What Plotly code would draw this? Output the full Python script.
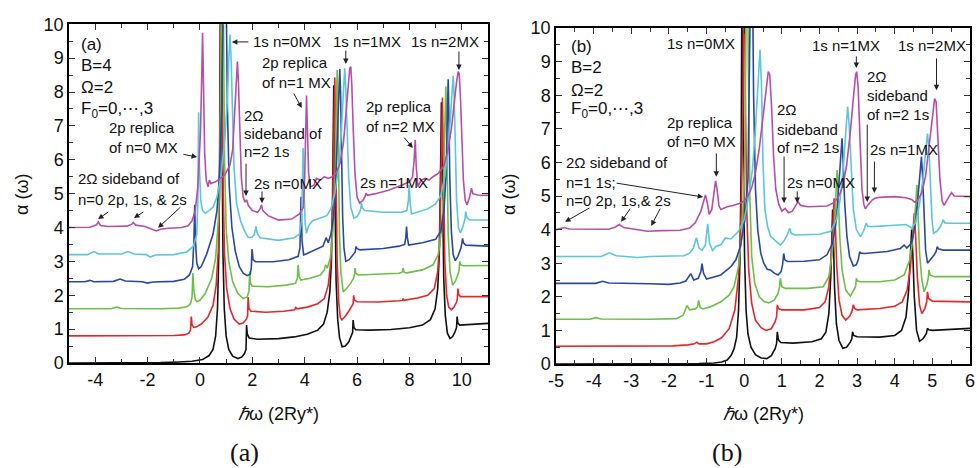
import plotly.graph_objects as go

# ---------------- data: (x, alpha) pairs ----------------
# Panel (a): B=4, Omega=2
A_BLACK = [(-5,0.0),(-3,0.0),(-1.5,0.01),(-0.8,0.03),(-0.3,0.05),(0.1,0.1),(0.35,0.22),(0.5,0.4),(0.6,0.8),(0.67,1.6),(0.72,3.2),(0.75,6),(0.78,12),(0.8,14),(0.82,12),(0.85,6),(0.88,3.2),(0.93,1.6),(1.0,0.8),(1.1,0.4),(1.25,0.2),(1.45,0.13),(1.6,0.18),(1.7,0.28),(1.76,0.4),(1.78,1.12),(1.81,0.85),(1.88,0.74),(2.2,0.7),(3.0,0.72),(3.6,0.77),(4.1,0.85),(4.5,0.97),(4.72,1.15),(4.86,1.5),(4.96,2.1),(5.02,3.0),(5.06,4.6),(5.09,6.5),(5.11,8.2),(5.13,6.5),(5.16,4.0),(5.2,2.4),(5.26,1.3),(5.33,0.75),(5.43,0.48),(5.55,0.5),(5.68,0.62),(5.78,0.78),(5.83,0.9),(5.85,1.27),(5.88,1.05),(5.95,0.98),(6.5,0.97),(7.3,0.99),(8.0,1.04),(8.5,1.12),(8.8,1.28),(8.98,1.6),(9.08,2.2),(9.14,3.2),(9.18,4.8),(9.2,6.3),(9.22,7.7),(9.24,6.3),(9.27,4.3),(9.31,2.5),(9.37,1.4),(9.45,0.88),(9.55,0.72),(9.65,0.78),(9.74,0.92),(9.8,1.05),(9.82,1.37),(9.85,1.18),(9.92,1.12),(10.5,1.14),(11,1.17)]
A_RED = [(-5,0.8),(-2,0.8),(-1,0.81),(-0.6,0.83),(-0.42,0.88),(-0.36,0.98),(-0.33,1.37),(-0.3,1.12),(-0.24,1.05),(-0.15,1.06),(0.05,1.15),(0.3,1.35),(0.5,1.7),(0.62,2.3),(0.7,3.3),(0.75,5),(0.79,9),(0.82,14),(0.85,9),(0.89,5),(0.94,3.2),(1.02,2.2),(1.15,1.6),(1.3,1.3),(1.5,1.15),(1.65,1.18),(1.78,1.3),(1.82,1.4),(1.84,1.95),(1.87,1.62),(1.95,1.53),(2.5,1.5),(3.2,1.53),(3.62,1.57),(3.66,1.65),(3.7,1.6),(4.1,1.65),(4.5,1.75),(4.75,1.9),(4.9,2.3),(5.0,3.0),(5.06,4.3),(5.1,6),(5.13,7.5),(5.15,8.43),(5.17,7.3),(5.2,5),(5.24,3),(5.3,1.8),(5.36,1.35),(5.42,1.27),(5.55,1.38),(5.7,1.55),(5.82,1.7),(5.85,1.75),(5.87,2.0),(5.9,1.86),(6.0,1.81),(6.8,1.8),(7.6,1.84),(7.73,1.85),(7.76,1.9),(7.8,1.85),(8.3,1.92),(8.7,2.0),(8.95,2.2),(9.08,2.7),(9.15,3.5),(9.2,5),(9.24,6.8),(9.26,7.84),(9.28,6.8),(9.31,4.8),(9.35,3.0),(9.42,2.0),(9.5,1.65),(9.6,1.57),(9.7,1.65),(9.8,1.8),(9.83,1.9),(9.85,2.2),(9.88,2.02),(9.95,1.96),(10.5,1.95),(11,1.96)]
A_GREEN = [(-5,1.6),(-3.4,1.6),(-3.18,1.65),(-3.0,1.61),(-1.5,1.6),(-0.8,1.62),(-0.5,1.66),(-0.36,1.75),(-0.3,1.95),(-0.27,2.66),(-0.24,2.2),(-0.18,1.88),(-0.12,1.81),(0.0,1.85),(0.2,2.05),(0.45,2.5),(0.6,3.1),(0.7,4.2),(0.77,6),(0.82,10),(0.86,14),(0.9,10),(0.94,6),(1.0,4),(1.1,3),(1.25,2.4),(1.45,2.05),(1.65,1.9),(1.8,1.95),(1.87,2.1),(1.9,2.7),(1.93,2.35),(2.0,2.27),(2.6,2.25),(3.3,2.3),(3.65,2.35),(3.72,2.5),(3.75,2.9),(3.79,2.55),(3.85,2.45),(4.2,2.5),(4.6,2.6),(4.75,2.75),(4.8,2.9),(4.86,2.8),(4.98,3.1),(5.08,3.9),(5.14,5),(5.19,7),(5.22,8.2),(5.24,8.65),(5.26,8),(5.29,5.8),(5.33,3.8),(5.38,2.7),(5.47,2.1),(5.6,2.2),(5.75,2.35),(5.86,2.5),(5.9,2.6),(5.92,2.8),(5.95,2.65),(6.05,2.6),(7.0,2.62),(7.6,2.65),(7.72,2.68),(7.76,2.8),(7.8,2.68),(7.9,2.66),(8.5,2.75),(8.9,2.9),(9.1,3.2),(9.22,3.9),(9.29,5),(9.34,6.8),(9.37,7.9),(9.39,8.16),(9.41,7.4),(9.44,5.5),(9.48,3.8),(9.55,2.7),(9.65,2.3),(9.75,2.4),(9.85,2.6),(9.89,2.7),(9.92,3.0),(9.95,2.9),(10.05,2.87),(11,2.88)]
A_BLUE = [(-5,2.4),(-4.4,2.4),(-4.2,2.44),(-4.05,2.4),(-3.3,2.41),(-3.05,2.48),(-2.85,2.42),(-2.2,2.4),(-2.0,2.36),(-1.8,2.39),(-1.0,2.41),(-0.6,2.47),(-0.4,2.6),(-0.28,2.85),(-0.23,3.6),(-0.2,4.67),(-0.17,3.6),(-0.12,2.95),(-0.05,2.78),(0.05,2.85),(0.25,3.2),(0.5,3.8),(0.65,4.5),(0.75,5.6),(0.83,7.5),(0.9,11),(0.95,14),(1.0,11),(1.05,7.5),(1.12,5.2),(1.22,4),(1.35,3.3),(1.5,2.85),(1.65,2.65),(1.8,2.58),(1.92,2.62),(1.96,2.8),(1.99,3.36),(2.03,3.05),(2.12,2.99),(2.8,2.99),(3.4,3.05),(3.75,3.15),(3.82,3.4),(3.86,4.91),(3.9,3.6),(3.96,3.19),(4.05,3.22),(4.4,3.35),(4.7,3.45),(4.82,3.7),(4.9,3.55),(5.0,3.8),(5.1,4.3),(5.18,5.2),(5.25,6.5),(5.3,7.9),(5.34,8.68),(5.37,8),(5.41,6),(5.45,4.3),(5.5,3.4),(5.57,3.0),(5.7,3.05),(5.85,3.2),(5.93,3.28),(5.96,3.44),(6.0,3.38),(6.1,3.34),(7.0,3.38),(7.6,3.45),(7.82,3.5),(7.86,3.7),(7.89,4.03),(7.92,3.7),(7.97,3.48),(8.5,3.55),(9.0,3.65),(9.2,3.9),(9.32,4.5),(9.4,5.6),(9.45,7.2),(9.48,8.38),(9.5,7.6),(9.54,5.5),(9.6,3.9),(9.67,3.2),(9.75,3.02),(9.85,3.15),(9.97,3.4),(10.0,3.5),(10.03,3.68),(10.06,3.55),(10.15,3.48),(11,3.45)]
A_CYAN = [(-5,3.2),(-4.3,3.2),(-4.05,3.29),(-3.85,3.22),(-3.0,3.22),(-2.75,3.29),(-2.5,3.22),(-2.05,3.2),(-1.9,3.13),(-1.7,3.19),(-1.0,3.2),(-0.5,3.28),(-0.25,3.45),(-0.12,3.8),(-0.08,4.8),(-0.05,7.4),(-0.02,5.8),(0.03,4.8),(0.1,4.5),(0.2,4.42),(0.35,4.5),(0.5,4.6),(0.65,4.9),(0.8,5.5),(0.95,6.6),(1.05,7.8),(1.1,8.9),(1.15,9.7),(1.19,9),(1.24,7.5),(1.3,5.8),(1.4,4.7),(1.55,4.2),(1.7,3.9),(1.85,3.7),(2.0,3.72),(2.08,3.8),(2.14,4.03),(2.19,3.82),(2.3,3.7),(3.0,3.62),(3.6,3.7),(3.8,3.8),(3.88,4.2),(3.92,5.5),(3.94,6.35),(3.97,5.2),(4.02,4.1),(4.07,3.83),(4.15,4.05),(4.3,4.2),(4.6,4.28),(4.85,4.35),(5.0,4.55),(5.15,5.0),(5.3,5.8),(5.4,6.8),(5.47,7.9),(5.53,8.7),(5.57,8.1),(5.62,6.8),(5.68,5.5),(5.76,4.6),(5.88,4.28),(6.0,4.32),(6.1,4.45),(6.14,4.55),(6.17,4.72),(6.2,4.58),(6.3,4.5),(7.0,4.45),(7.7,4.45),(7.9,4.5),(7.96,4.8),(7.99,5.26),(8.03,4.7),(8.08,4.4),(8.3,4.45),(8.7,4.55),(9.0,4.7),(9.2,4.95),(9.35,5.5),(9.48,6.3),(9.57,7.3),(9.63,8.1),(9.67,8.48),(9.71,7.8),(9.75,6.2),(9.8,4.8),(9.87,4.0),(9.95,3.84),(10.05,4.05),(10.12,4.25),(10.15,4.47),(10.19,4.3),(10.3,4.22),(11,4.22)]
A_MAGENTA = [(-5,4.0),(-4.2,4.01),(-3.95,4.08),(-3.88,4.17),(-3.8,4.06),(-3.5,4.03),(-2.8,4.04),(-2.6,4.1),(-2.55,4.15),(-2.45,4.07),(-2.1,4.03),(-1.8,3.95),(-1.67,3.9),(-1.5,3.95),(-1.2,3.98),(-0.7,4.0),(-0.45,4.05),(-0.3,4.2),(-0.18,4.5),(-0.08,5.2),(0.02,6.8),(0.07,8.5),(0.1,9.75),(0.13,8.5),(0.18,6.2),(0.24,5.4),(0.31,5.2),(0.36,5.4),(0.42,5.3),(0.6,5.35),(0.8,5.45),(0.95,5.55),(1.05,5.7),(1.15,5.85),(1.25,6.3),(1.33,7.3),(1.39,8.4),(1.43,8.9),(1.47,8.3),(1.52,6.8),(1.58,5.5),(1.65,4.9),(1.72,4.75),(1.78,4.82),(1.85,4.65),(2.0,4.5),(2.2,4.45),(2.3,4.55),(2.35,4.67),(2.4,4.5),(2.6,4.35),(3.0,4.22),(3.5,4.25),(3.8,4.4),(3.95,4.6),(4.0,5.5),(4.04,7.0),(4.07,7.9),(4.1,7.0),(4.15,5.6),(4.22,5.2),(4.35,5.25),(4.45,5.45),(4.6,5.4),(4.75,5.5),(4.9,5.45),(5.05,5.5),(5.2,5.6),(5.35,5.9),(5.48,6.5),(5.58,7.4),(5.67,8.3),(5.72,8.7),(5.76,8.75),(5.8,8.2),(5.85,7.0),(5.92,5.6),(6.0,4.9),(6.1,4.72),(6.22,4.8),(6.3,4.9),(6.34,5.01),(6.4,4.95),(6.7,5.0),(7.2,5.1),(7.7,5.25),(8.0,5.35),(8.12,5.5),(8.18,6.0),(8.22,6.59),(8.26,5.8),(8.32,5.21),(8.45,5.4),(8.6,5.45),(8.75,5.4),(8.9,5.5),(9.1,5.6),(9.3,5.8),(9.45,6.2),(9.6,6.9),(9.72,7.8),(9.8,8.3),(9.86,8.6),(9.9,8.55),(9.95,7.8),(10.0,6.6),(10.06,5.4),(10.13,4.8),(10.2,4.67),(10.28,4.85),(10.34,5.05),(10.37,5.16),(10.42,5.0),(10.6,4.96),(11,4.95)]

# Panel (b): B=2, Omega=2
B_BLACK = [(-5,0),(-2,0),(-1.2,0.01),(-0.8,0.03),(-0.6,0.06),(-0.45,0.12),(-0.35,0.25),(-0.27,0.45),(-0.2,0.8),(-0.15,1.6),(-0.11,3.2),(-0.08,6),(-0.05,14),(-0.02,6),(0.01,3.2),(0.05,1.6),(0.1,0.9),(0.18,0.5),(0.3,0.28),(0.45,0.18),(0.6,0.16),(0.72,0.25),(0.82,0.45),(0.86,0.6),(0.88,0.96),(0.91,0.72),(0.97,0.64),(1.3,0.62),(1.8,0.66),(2.05,0.75),(2.17,0.95),(2.25,1.5),(2.3,2.6),(2.33,3.8),(2.35,4.6),(2.37,3.8),(2.4,2.3),(2.45,1.2),(2.52,0.7),(2.62,0.47),(2.72,0.5),(2.82,0.65),(2.86,0.75),(2.88,0.96),(2.91,0.85),(3.0,0.81),(3.6,0.8),(4.0,0.85),(4.18,1.0),(4.3,1.4),(4.37,2.2),(4.42,3.3),(4.45,4.0),(4.48,3.3),(4.52,2.0),(4.58,1.0),(4.66,0.68),(4.75,0.75),(4.84,0.9),(4.87,1.06),(4.9,1.02),(5.0,1.0),(6,1.06)]
B_RED = [(-5,0.53),(-2.5,0.53),(-1.9,0.54),(-1.5,0.57),(-1.32,0.6),(-1.26,0.65),(-1.2,0.6),(-1.0,0.6),(-0.8,0.66),(-0.6,0.78),(-0.4,1.05),(-0.25,1.6),(-0.15,2.6),(-0.08,4.5),(-0.03,8),(0.0,14),(0.03,8),(0.07,4.5),(0.12,2.8),(0.2,1.8),(0.3,1.3),(0.45,1.08),(0.58,1.0),(0.72,1.05),(0.82,1.25),(0.86,1.4),(0.88,1.76),(0.91,1.65),(1.0,1.61),(1.6,1.61),(2.0,1.68),(2.15,1.85),(2.25,2.3),(2.32,3.3),(2.36,4.3),(2.39,4.93),(2.42,4.2),(2.46,2.9),(2.52,1.9),(2.6,1.45),(2.7,1.31),(2.8,1.42),(2.86,1.55),(2.9,1.76),(2.93,1.66),(3.0,1.61),(3.6,1.65),(4.0,1.72),(4.2,1.85),(4.33,2.2),(4.42,2.9),(4.48,3.8),(4.52,4.49),(4.56,3.7),(4.6,2.6),(4.66,1.75),(4.72,1.5),(4.8,1.65),(4.85,1.85),(4.87,2.15),(4.9,1.95),(5.0,1.87),(6,1.85)]
B_GREEN = [(-5,1.33),(-4.1,1.33),(-3.94,1.38),(-3.8,1.34),(-2.5,1.33),(-1.8,1.35),(-1.62,1.45),(-1.52,1.74),(-1.45,1.61),(-1.3,1.64),(-1.24,1.7),(-1.21,1.89),(-1.17,1.68),(-1.1,1.64),(-0.9,1.7),(-0.62,1.85),(-0.4,2.05),(-0.27,2.3),(-0.15,2.9),(-0.05,4),(0.02,6.5),(0.06,10),(0.08,14),(0.11,9),(0.15,5),(0.2,3.2),(0.28,2.4),(0.4,2.0),(0.53,1.86),(0.65,1.82),(0.8,1.9),(0.9,2.1),(0.94,2.3),(0.96,2.55),(1.0,2.3),(1.1,2.25),(1.7,2.25),(2.1,2.3),(2.25,2.6),(2.33,3.2),(2.4,4.2),(2.44,5.1),(2.47,5.77),(2.5,5.0),(2.54,3.8),(2.6,2.8),(2.7,2.2),(2.82,2.02),(2.92,2.2),(2.96,2.3),(2.98,2.55),(3.01,2.47),(3.1,2.45),(3.6,2.45),(4.0,2.5),(4.25,2.65),(4.4,3.1),(4.5,3.9),(4.56,4.8),(4.59,5.33),(4.62,4.5),(4.66,3.3),(4.72,2.5),(4.78,2.15),(4.85,2.35),(4.89,2.55),(4.91,2.8),(4.94,2.65),(5.05,2.6),(6,2.6)]
B_BLUE = [(-5,2.4),(-3.95,2.4),(-3.76,2.46),(-3.6,2.41),(-2.5,2.39),(-2.0,2.37),(-1.7,2.41),(-1.55,2.47),(-1.42,2.69),(-1.34,2.5),(-1.22,2.55),(-1.15,2.75),(-1.12,2.99),(-1.08,2.7),(-1.0,2.53),(-0.85,2.58),(-0.62,2.65),(-0.35,2.9),(-0.22,3.1),(-0.1,3.5),(0.02,4.3),(0.1,5.5),(0.15,8),(0.2,14),(0.25,8),(0.3,5.2),(0.36,4.0),(0.44,3.3),(0.52,3.0),(0.61,2.82),(0.7,2.8),(0.78,2.72),(0.9,2.65),(0.98,2.75),(1.02,2.95),(1.05,3.29),(1.08,3.1),(1.15,3.05),(1.6,3.06),(2.0,3.1),(2.2,3.25),(2.35,3.6),(2.45,4.3),(2.52,5.3),(2.57,6.2),(2.6,6.72),(2.63,6.0),(2.67,4.8),(2.73,3.8),(2.8,3.2),(2.9,2.92),(2.98,2.95),(3.03,3.1),(3.07,3.34),(3.1,3.3),(3.2,3.29),(3.8,3.35),(4.15,3.44),(4.25,3.54),(4.32,3.45),(4.45,3.6),(4.55,4.2),(4.62,5.0),(4.67,5.8),(4.71,6.17),(4.74,5.6),(4.78,4.4),(4.82,3.4),(4.87,3.0),(4.95,3.1),(5.05,3.25),(5.1,3.35),(5.13,3.49),(5.17,3.42),(5.3,3.39),(6,3.39)]
B_CYAN = [(-5,3.2),(-3.8,3.2),(-3.58,3.31),(-3.4,3.22),(-2.83,3.17),(-2.5,3.2),(-1.6,3.22),(-1.45,3.3),(-1.35,3.45),(-1.27,3.76),(-1.2,3.45),(-1.12,3.38),(-1.03,3.55),(-0.97,4.17),(-0.92,3.6),(-0.84,3.38),(-0.75,3.5),(-0.62,3.55),(-0.5,3.75),(-0.35,3.72),(-0.15,3.95),(0.0,4.3),(0.12,5),(0.22,5.8),(0.3,7),(0.37,8.5),(0.42,9.35),(0.46,8.3),(0.5,6),(0.55,4.6),(0.62,4.1),(0.7,3.8),(0.8,3.7),(0.9,3.6),(0.96,3.54),(1.05,3.65),(1.15,3.85),(1.21,4.04),(1.25,3.89),(1.35,3.84),(2.0,3.86),(2.3,3.95),(2.45,4.3),(2.55,4.9),(2.63,5.8),(2.7,6.9),(2.75,7.66),(2.79,7.1),(2.84,5.8),(2.9,4.6),(2.98,4.0),(3.09,3.79),(3.17,3.95),(3.21,4.1),(3.24,4.19),(3.28,4.1),(3.4,4.09),(3.9,4.12),(4.3,4.15),(4.45,4.05),(4.55,4.2),(4.65,4.7),(4.75,5.5),(4.82,6.3),(4.87,6.86),(4.91,6.4),(4.95,5.2),(4.99,4.3),(5.03,3.89),(5.12,3.95),(5.22,4.1),(5.29,4.29),(5.33,4.2),(5.45,4.19),(6,4.19)]
B_MAGENTA = [(-5,4.0),(-4.9,4.02),(-4.78,4.06),(-4.65,4.02),(-3.6,4.01),(-3.42,4.08),(-3.32,4.15),(-3.2,4.06),(-2.9,4.0),(-2.57,3.95),(-2.2,3.97),(-1.7,3.98),(-1.45,4.05),(-1.3,4.2),(-1.15,4.55),(-1.07,4.9),(-1.03,5.03),(-0.98,4.8),(-0.93,4.45),(-0.86,4.6),(-0.8,5.1),(-0.76,5.45),(-0.72,5.2),(-0.67,4.7),(-0.62,4.6),(-0.45,4.68),(-0.3,4.72),(-0.13,4.78),(0.0,4.85),(0.1,5.0),(0.2,5.25),(0.3,5.7),(0.4,6.4),(0.5,7.3),(0.58,8.2),(0.64,8.7),(0.68,8.6),(0.73,7.6),(0.78,6.2),(0.84,5.2),(0.92,4.75),(1.0,4.55),(1.09,4.63),(1.18,4.5),(1.28,4.55),(1.38,4.75),(1.43,4.83),(1.5,4.72),(1.7,4.68),(2.2,4.7),(2.35,4.78),(2.5,4.95),(2.62,5.3),(2.72,5.9),(2.82,6.9),(2.9,7.9),(2.96,8.6),(2.99,8.7),(3.03,8.2),(3.08,6.6),(3.13,5.2),(3.18,4.75),(3.22,4.62),(3.3,4.75),(3.4,4.88),(3.47,4.93),(3.6,4.96),(4.0,4.98),(4.3,4.95),(4.45,4.9),(4.52,4.82),(4.6,4.85),(4.72,5.1),(4.82,5.6),(4.92,6.5),(5.0,7.4),(5.06,7.9),(5.1,7.8),(5.15,6.8),(5.2,5.5),(5.26,4.85),(5.31,4.72),(5.4,4.9),(5.47,5.05),(5.51,5.1),(5.58,5.0),(5.8,4.98),(6,4.98)]

COLORS = ["#111111", "#e5262b", "#6cbf47", "#2848a2", "#5cc6dc", "#b84ea6"]
PANEL_A = [A_BLACK, A_RED, A_GREEN, A_BLUE, A_CYAN, A_MAGENTA]
PANEL_B = [B_BLACK, B_RED, B_GREEN, B_BLUE, B_CYAN, B_MAGENTA]

XTICKS_A = [-4, -2, 0, 2, 4, 6, 8, 10]
XTICKS_B = [-5, -4, -3, -2, -1, 0, 1, 2, 3, 4, 5, 6]
YTICKS = list(range(0, 11))

FONT = "Liberation Sans, Arial, sans-serif"

fig = go.Figure()
for curves, xa, ya in ((PANEL_A, "x", "y"), (PANEL_B, "x2", "y2")):
    for pts, col in zip(curves, COLORS):
        fig.add_trace(go.Scatter(x=[p[0] for p in pts], y=[p[1] for p in pts],
                                 mode="lines", line=dict(color=col, width=1.6),
                                 xaxis=xa, yaxis=ya, showlegend=False, hoverinfo="skip"))

def lab(v):
    return str(v)

axis_common = dict(showline=True, linecolor="black", linewidth=1.5, mirror="allticks",
                   ticks="inside", ticklen=6, tickwidth=1.2, tickcolor="#333",
                   showgrid=False, zeroline=False, automargin=False,
                   tickfont=dict(family=FONT, size=18, color="#111"))
minor_common = dict(ticks="inside", ticklen=4, tickcolor="#333", tickwidth=1, showgrid=False)

fig.update_layout(
    template="none",
    width=977, height=468, margin=dict(l=0, r=0, t=0, b=0, pad=0),
    paper_bgcolor="white", plot_bgcolor="white", showlegend=False,
    xaxis=dict(domain=[69/977, 488/977], range=[-5, 11], tickmode="array",
               tickvals=XTICKS_A, ticktext=[lab(v) for v in XTICKS_A],
               minor=dict(dtick=1, tick0=0, **minor_common),
               anchor="y", **axis_common),
    yaxis=dict(domain=[1-363/468, 1-24.3/468], range=[0, 10], tickmode="array",
               tickvals=YTICKS, ticktext=[str(v) for v in YTICKS],
               minor=dict(dtick=0.5, tick0=0, **minor_common),
               anchor="x", **axis_common),
    xaxis2=dict(domain=[556/977, 970/977], range=[-5, 6], tickmode="array",
                tickvals=XTICKS_B, ticktext=[lab(v) for v in XTICKS_B],
                minor=dict(dtick=0.5, tick0=0, **minor_common),
                anchor="y2", **axis_common),
    yaxis2=dict(domain=[1-364/468, 1-28/468], range=[0, 10], tickmode="array",
                tickvals=YTICKS, ticktext=[str(v) for v in YTICKS],
                minor=dict(dtick=0.5, tick0=0, **minor_common),
                anchor="x2", **axis_common),
)

ann = []
def txt(x, y, s, xr, yr, size=15):
    ann.append(dict(x=x, y=y, xref=xr, yref=yr, text=s, showarrow=False,
                    xanchor="left", yanchor="middle",
                    font=dict(family=FONT, size=size, color="#111")))

def arr(tx, ty, hx, hy, xr, yr):
    ann.append(dict(x=hx, y=hy, ax=tx, ay=ty, xref=xr, yref=yr, axref=xr, ayref=yr,
                    text="", showarrow=True, arrowhead=2, arrowsize=1.1,
                    arrowwidth=1, arrowcolor="#222"))

# panel (a) texts
for y, s in ((9.39, "(a)"), (8.77, "B=4"), (8.12, "\u03a9=2"), (7.47, "F<sub>0</sub>=0,\u22ef,3")):
    txt(-4.62, y, s, "x", "y", 17)
txt(-3.55, 6.94, "2p replica", "x", "y"); txt(-3.55, 6.35, "of n=0 MX", "x", "y")
arr(-0.69, 6.17, -0.11, 6.08, "x", "y")
txt(-4.75, 5.46, "2\u03a9 sideband of", "x", "y"); txt(-4.75, 4.84, "n=0 2p, 1s, & 2s", "x", "y")
arr(-3.44, 4.49, -3.89, 4.25, "x", "y")
arr(-2.10, 4.49, -2.52, 4.28, "x", "y")
arr(-0.69, 4.64, -1.60, 3.99, "x", "y")
txt(1.95, 9.48, "1s n=0MX", "x", "y"); arr(1.91, 9.48, 1.22, 9.48, "x", "y")
txt(5.0, 9.48, "1s n=1MX", "x", "y"); arr(5.57, 9.27, 5.57, 8.83, "x", "y")
txt(7.98, 9.48, "1s n=2MX", "x", "y"); arr(9.89, 9.24, 9.89, 8.65, "x", "y")
txt(2.29, 8.86, "2p replica", "x", "y"); txt(2.29, 8.27, "of n=1 MX", "x", "y")
arr(3.55, 8.0, 3.89, 7.53, "x", "y")
txt(1.6, 7.32, "2\u03a9", "x", "y"); txt(1.6, 6.79, "sideband of", "x", "y"); txt(1.6, 6.23, "n=2 1s", "x", "y")
arr(1.76, 5.93, 1.76, 4.93, "x", "y")
txt(1.98, 5.31, "2s n=0MX", "x", "y"); arr(2.37, 5.11, 2.37, 4.72, "x", "y")
txt(6.26, 7.56, "2p replica", "x", "y"); txt(6.26, 6.97, "of n=2 MX", "x", "y")
arr(7.75, 6.70, 8.13, 6.35, "x", "y")
txt(6.03, 5.34, "2s n=1MX", "x", "y")

# panel (b) texts
for y, s in ((9.44, "(b)"), (8.81, "B=2"), (8.15, "\u03a9=2"), (7.56, "F<sub>0</sub>=0,\u22ef,3")):
    txt(-4.65, y, s, "x2", "y2", 17)
txt(-2.1, 9.55, "1s n=0MX", "x2", "y2")
txt(-2.1, 7.2, "2p replica", "x2", "y2"); txt(-2.1, 6.61, "of n=0 MX", "x2", "y2")
arr(-0.74, 6.31, -0.74, 5.57, "x2", "y2")
txt(-4.78, 6.01, "2\u03a9 sideband of", "x2", "y2"); txt(-4.78, 5.39, "n=1 1s;", "x2", "y2")
txt(-4.78, 4.88, "n=0 2p, 1s,& 2s", "x2", "y2")
arr(-3.43, 5.39, -1.09, 4.97, "x2", "y2")
arr(-4.07, 4.67, -4.76, 4.23, "x2", "y2")
arr(-3.0, 4.67, -3.27, 4.23, "x2", "y2")
arr(-2.21, 4.67, -2.47, 4.11, "x2", "y2")
txt(0.82, 7.56, "2\u03a9", "x2", "y2"); txt(0.82, 6.99, "sideband", "x2", "y2"); txt(0.82, 6.43, "of n=2 1s", "x2", "y2")
arr(1.06, 6.22, 1.06, 4.79, "x2", "y2")
txt(1.09, 5.39, "2s n=0MX", "x2", "y2"); arr(1.41, 5.18, 1.41, 4.79, "x2", "y2")
txt(1.76, 9.49, "1s n=1MX", "x2", "y2"); arr(2.98, 9.2, 2.98, 8.81, "x2", "y2")
txt(3.22, 8.57, "2\u03a9", "x2", "y2"); txt(3.22, 8.0, "sideband", "x2", "y2"); txt(3.22, 7.44, "of n=2 1s", "x2", "y2")
arr(3.27, 7.17, 3.27, 4.82, "x2", "y2")
txt(4.04, 9.49, "1s n=2MX", "x2", "y2"); arr(5.11, 9.14, 5.11, 8.15, "x2", "y2")
txt(3.3, 6.37, "2s n=1MX", "x2", "y2"); arr(3.46, 6.07, 3.46, 5.09, "x2", "y2")

# axis titles and captions
for xc in (278/977, 763/977):
    ann.append(dict(x=xc, y=1-414/468, xref="paper", yref="paper", showarrow=False,
                    xanchor="center", yanchor="middle",
                    text="<i>\u210f</i>\u03c9 (2Ry*)", font=dict(family=FONT, size=18, color="#111")))
for xc in (22/977, 509/977):
    ann.append(dict(x=xc, y=1-195/468, xref="paper", yref="paper", showarrow=False, textangle=-90,
                    xanchor="center", yanchor="middle",
                    text="\u03b1 (\u03c9)", font=dict(family=FONT, size=18, color="#111")))
for xc, s in ((245/977, "(a)"), (727/977, "(b)")):
    ann.append(dict(x=xc, y=1-452/468, xref="paper", yref="paper", showarrow=False, text=s,
                    xanchor="center", yanchor="middle",
                    font=dict(family="Liberation Serif, DejaVu Serif, serif", size=26, color="#111")))

fig.update_layout(annotations=ann)
fig.write_html("out.html")
